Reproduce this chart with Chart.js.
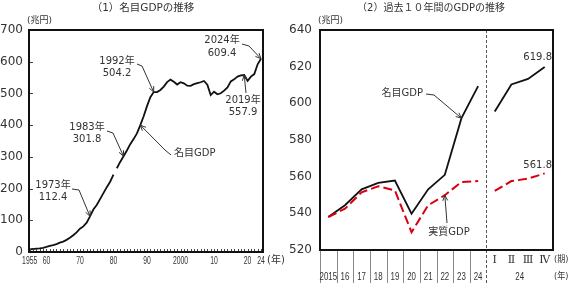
<!DOCTYPE html>
<html>
<head>
<meta charset="utf-8">
<script src="https://cdn.jsdelivr.net/npm/chart.js@4.4.1/dist/chart.umd.min.js"></script>
<style>
  html, body { margin: 0; padding: 0; background: #fff; }
  #wrap { position: relative; width: 571px; height: 284px; }
  #c1 { position: absolute; left: 0; top: 0; }
  #c2 { position: absolute; left: 290px; top: 0; }
</style>
</head>
<body>
<div id="wrap">
  <canvas id="c1" width="290" height="284"></canvas>
  <canvas id="c2" width="281" height="284"></canvas>
</div>
<script>
// --- DATA: (1) nominal GDP, trillion yen ---
const oldYears = [1955, 1956, 1957, 1958, 1959, 1960, 1961, 1962, 1963, 1964, 1965, 1966, 1967,
                  1968, 1969, 1970, 1971, 1972, 1973, 1974, 1975, 1976, 1977, 1978, 1979, 1980];
const oldGdp = [8.4, 9.4, 10.8, 11.5, 13.0, 16.0, 19.3, 21.7, 25.0, 29.5, 32.9, 38.2, 44.7,
                52.8, 61.9, 73.3, 80.7, 92.4, 112.4, 134.0, 148.3, 166.6, 185.6, 204.4, 221.5, 244.0];
const newYears = [1981, 1982, 1983, 1984, 1985, 1986, 1987, 1988, 1989, 1990, 1991, 1992, 1993,
                  1994, 1995, 1996, 1997, 1998, 1999, 2000, 2001, 2002, 2003, 2004, 2005, 2006,
                  2007, 2008, 2009, 2010, 2011, 2012, 2013, 2014, 2015, 2016, 2017, 2018, 2019,
                  2020, 2021, 2022, 2023, 2024];
const newGdp = [264.0, 284.0, 301.8, 320.0, 340.0, 356.0, 374.0, 400.0, 428.0, 460.0, 488.0, 504.2, 504.5,
                510.9, 521.6, 535.6, 543.5, 536.5, 528.1, 535.4, 531.7, 524.5, 523.9, 529.4, 532.5, 535.2,
                539.3, 527.8, 494.9, 505.5, 497.4, 500.5, 508.7, 518.8, 538.0, 544.4, 553.1, 556.6, 557.9,
                539.8, 553.1, 561.0, 591.9, 609.4];
const leftTickYears = [1955, 1960, 1970, 1980, 1990, 2000, 2010, 2020, 2024];
const leftTickLabels = ['1955', '60', '70', '80', '90', '2000', '10', '20', '24'];

// --- DATA: (2) last 10 years ---
const yearLabels = ['2015', '16', '17', '18', '19', '20', '21', '22', '23', '24'];
const quarterLabels = ['Ⅰ', 'Ⅱ', 'Ⅲ', 'Ⅳ'];
const nominalAnnual = [538.0, 544.4, 553.1, 556.6, 557.9, 539.8, 553.1, 561.0, 591.9, 609.4];
const realAnnual = [538.0, 542.5, 551.5, 554.8, 552.5, 529.7, 544.4, 549.9, 557.1, 557.6];
const nominalQuarter = [595.5, 610.3, 613.3, 619.8];
const realQuarter = [552.2, 557.6, 558.9, 561.8];

const TXT = '#333';
const JP = '"DejaVu Sans", "Noto Sans CJK JP", sans-serif';
const RED = '#d9000f';

// --- HELPERS ---
const text = (ctx, s, x, y, size, align = 'center', sx = 1, family = JP) => {
  ctx.save();
  ctx.fillStyle = TXT;
  ctx.font = `${size}px ${family}`;
  ctx.textAlign = align;
  ctx.textBaseline = 'middle';
  ctx.translate(x, y);
  ctx.scale(sx, 1);
  ctx.fillText(s, 0, 0);
  ctx.restore();
};

const arrow = (ctx, pts) => {
  ctx.save();
  ctx.strokeStyle = '#333';
  ctx.lineWidth = 1;
  ctx.beginPath();
  ctx.moveTo(pts[0][0], pts[0][1]);
  pts.slice(1).forEach(p => ctx.lineTo(p[0], p[1]));
  ctx.stroke();
  const [x1, y1] = pts[pts.length - 2];
  const [x2, y2] = pts[pts.length - 1];
  const a = Math.atan2(y2 - y1, x2 - x1), L = 6, s = 0.42;
  ctx.beginPath();
  ctx.moveTo(x2 - L * Math.cos(a - s), y2 - L * Math.sin(a - s));
  ctx.lineTo(x2, y2);
  ctx.lineTo(x2 - L * Math.cos(a + s), y2 - L * Math.sin(a + s));
  ctx.stroke();
  ctx.restore();
};

const frame = (ctx, area) => {
  ctx.save();
  ctx.strokeStyle = '#111';
  ctx.lineWidth = 2;
  ctx.strokeRect(area.left, area.top, area.right - area.left, area.bottom - area.top);
  ctx.restore();
};

// --- LEFT CHART ---
const leftDecor = {
  id: 'leftDecor',
  afterDraw(chart) {
    const { ctx, chartArea: a, scales: { x, y } } = chart;
    const pt = (yr, v) => [x.getPixelForValue(yr), y.getPixelForValue(v)];

    // inward ticks
    ctx.save();
    ctx.strokeStyle = '#444';
    ctx.lineWidth = 1;
    for (let v = 100; v < 700; v += 100) {
      const py = Math.round(y.getPixelForValue(v)) + 0.5;
      ctx.beginPath(); ctx.moveTo(a.left, py); ctx.lineTo(a.left + 4, py); ctx.stroke();
    }
    for (let yr = 1955; yr <= 2024; yr++) {
      const px = Math.round(x.getPixelForValue(yr)) + 0.5;
      ctx.beginPath(); ctx.moveTo(px, a.bottom); ctx.lineTo(px, a.bottom - 3); ctx.stroke();
    }
    ctx.restore();
    frame(ctx, a);

    // x labels (condensed)
    leftTickYears.forEach((yr, i) => text(ctx, leftTickLabels[i], x.getPixelForValue(yr), 261, 11, 'center', 0.62,
      '"Liberation Sans", sans-serif'));
    text(ctx, '(年)', 267, 260, 10, 'left');

    text(ctx, '（1）名目GDPの推移', 143, 8, 10.5);
    text(ctx, '(兆円)', 27, 21, 9, 'left');

    // annotations
    text(ctx, '1973年', 53, 185, 10); text(ctx, '112.4', 53, 197, 10);
    arrow(ctx, [[72, 189], [79, 190], pt(1973, 112.4)]);
    text(ctx, '1983年', 87, 127, 10); text(ctx, '301.8', 87, 139, 10);
    arrow(ctx, [[107, 131], [113, 133], pt(1983, 301.8)]);
    text(ctx, '1992年', 117, 61, 10); text(ctx, '504.2', 117, 73, 10);
    arrow(ctx, [[137, 64], [142, 66], pt(1992, 504.2)]);
    text(ctx, '2024年', 222, 40, 10); text(ctx, '609.4', 222, 53, 10);
    arrow(ctx, [[242, 44], [249, 46], pt(2024, 609.4)]);
    text(ctx, '2019年', 243, 100, 10); text(ctx, '557.9', 243, 112, 10);
    arrow(ctx, [[246, 93], pt(2019, 557.9)]);
    text(ctx, '名目GDP', 174, 153, 10, 'left');
    arrow(ctx, [[171, 155], [165, 150], pt(1988, 400)]);
  }
};

const lineSet = (years, vals) => ({
  data: years.map((yr, i) => ({ x: yr, y: vals[i] })),
  borderColor: '#111', borderWidth: 1.8, pointRadius: 0, tension: 0, fill: false
});

new Chart(document.getElementById('c1'), {
  type: 'line',
  data: { datasets: [lineSet(oldYears, oldGdp), lineSet(newYears, newGdp)] },
  options: {
    responsive: false, animation: false,
    layout: { padding: { top: 30, right: 27, left: 0, bottom: 0 } },
    plugins: { legend: { display: false }, tooltip: { enabled: false } },
    scales: {
      x: {
        type: 'linear', min: 1954.8, max: 2024.6,
        grid: { display: false, drawTicks: false }, border: { display: false },
        ticks: { display: false },
        afterFit: s => { s.height = 32; }
      },
      y: {
        min: 0, max: 700,
        grid: { display: false, drawTicks: false }, border: { display: false },
        ticks: { stepSize: 100, color: TXT, padding: 6, font: { size: 12, family: 'DejaVu Sans' } },
        afterFit: s => { s.width = 29; }
      }
    }
  },
  plugins: [leftDecor]
});

// --- RIGHT CHART ---
const rightDecor = {
  id: 'rightDecor',
  afterDraw(chart) {
    const { ctx, chartArea: a, scales: { x, y } } = chart;
    const n = x.getLabels().length;
    const w = (a.right - a.left) / n;
    const pt = (i, v) => [x.getPixelForValue(i), y.getPixelForValue(v)];

    ctx.save();
    ctx.strokeStyle = '#888';
    ctx.lineWidth = 1;
    for (let i = 0; i < yearLabels.length; i++) {
      const px = Math.round(a.left + i * w) + 0.5;
      ctx.beginPath(); ctx.moveTo(px, a.bottom); ctx.lineTo(px, 283); ctx.stroke();
    }
    ctx.strokeStyle = '#555';
    ctx.setLineDash([3, 2]);
    const sep = Math.round(a.left + yearLabels.length * w) + 0.5;
    ctx.beginPath(); ctx.moveTo(sep, a.top); ctx.lineTo(sep, 283); ctx.stroke();
    ctx.restore();
    frame(ctx, a);

    yearLabels.forEach((s, i) => text(ctx, s, x.getPixelForValue(i), 277, 11, 'center', 0.72,
      '"Liberation Sans", sans-serif'));
    quarterLabels.forEach((s, i) => text(ctx, s, x.getPixelForValue(yearLabels.length + i), 260, 11, 'center', 1,
      '"DejaVu Serif", "Noto Serif CJK JP", serif'));
    const qMid = (x.getPixelForValue(yearLabels.length + 1) + x.getPixelForValue(yearLabels.length + 2)) / 2;
    text(ctx, '24', qMid, 277, 11, 'center', 0.72, '"Liberation Sans", sans-serif');
    text(ctx, '(期)', 264, 260, 9, 'left', 0.9);
    text(ctx, '(年)', 264, 277, 9, 'left', 0.9);

    text(ctx, '（2）過去１０年間のGDPの推移', 141, 8, 10);
    text(ctx, '(兆円)', 28, 21, 9, 'left');

    text(ctx, '名目GDP', 133, 93, 10, 'right');
    arrow(ctx, [[136, 94], [144, 95], pt(8, nominalAnnual[8])]);
    text(ctx, '実質GDP', 159, 232, 10);
    arrow(ctx, [[157, 223], pt(7, realAnnual[7])]);
    text(ctx, '619.8', 262, 57, 10, 'right');
    text(ctx, '561.8', 262, 165, 10, 'right');
  }
};

const pad = (vals, before, after) => [...Array(before).fill(null), ...vals, ...Array(after).fill(null)];
const nq = quarterLabels.length, ny = yearLabels.length;

new Chart(document.getElementById('c2'), {
  type: 'line',
  data: {
    labels: [...yearLabels, ...quarterLabels],
    datasets: [
      { data: pad(realAnnual, 0, nq), borderColor: RED, borderWidth: 2, borderDash: [9, 4] },
      { data: pad(realQuarter, ny, 0), borderColor: RED, borderWidth: 2, borderDash: [9, 4] },
      { data: pad(nominalAnnual, 0, nq), borderColor: '#111', borderWidth: 1.8 },
      { data: pad(nominalQuarter, ny, 0), borderColor: '#111', borderWidth: 1.8 }
    ]
  },
  options: {
    responsive: false, animation: false,
    layout: { padding: { top: 30, right: 18, left: 0, bottom: 0 } },
    elements: { point: { radius: 0 }, line: { tension: 0, fill: false } },
    spanGaps: false,
    plugins: { legend: { display: false }, tooltip: { enabled: false } },
    scales: {
      x: {
        type: 'category', offset: true,
        grid: { display: false, drawTicks: false }, border: { display: false },
        ticks: { display: false },
        afterFit: s => { s.height = 34; }
      },
      y: {
        min: 520, max: 640,
        grid: { display: false, drawTicks: false }, border: { display: false },
        ticks: { stepSize: 20, color: TXT, padding: 8, font: { size: 12, family: 'DejaVu Sans' } },
        afterFit: s => { s.width = 30; }
      }
    }
  },
  plugins: [rightDecor]
});
</script>
</body>
</html>
